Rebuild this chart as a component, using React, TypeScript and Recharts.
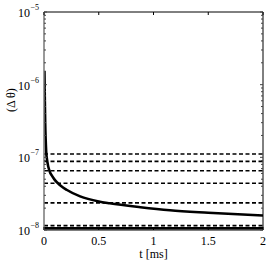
import { LineChart, Line, XAxis, YAxis, ReferenceLine } from 'recharts'

// curve (t in ms, Δθ)
const tMs = [0.004, 0.006, 0.008, 0.011, 0.015, 0.02, 0.03, 0.05, 0.075, 0.1, 0.15, 0.21, 0.33, 0.5, 0.6, 0.88, 1.15, 1.5, 2]
const dTheta = [1.55e-6, 9.0e-7, 5.6e-7, 3.0e-7, 1.8e-7, 1.2e-7, 8.8e-8, 6.5e-8, 5.5e-8, 4.85e-8, 4.1e-8, 3.55e-8, 2.9e-8, 2.47e-8, 2.33e-8, 2.06e-8, 1.87e-8, 1.73e-8, 1.58e-8]

const dashedLevels = [1.11e-7, 8.8e-8, 6.55e-8, 4.4e-8, 2.36e-8, 1.15e-8]
const solidLevels = [1.06e-8]

const xTicks = [0, 0.5, 1, 1.5, 2]
const decades = [-8, -7, -6, -5]
const yTicks: number[] = []
decades.forEach((d, i) => {
  yTicks.push(Math.pow(10, d))
  if (i < decades.length - 1) {
    for (let k = 2; k <= 9; k++) yTicks.push(k * Math.pow(10, d))
  }
})

const data = tMs.map((t, i) => ({ t, v: dTheta[i] }))

const FONT = '"Liberation Serif", "DejaVu Serif", serif'

const isMajor = (v: number) => {
  const e = Math.log10(v)
  return Math.abs(e - Math.round(e)) < 1e-6
}

const LeftTick = ({ x, y, payload }: any) => {
  const major = isMajor(payload.value)
  const exp = Math.round(Math.log10(payload.value))
  return (
    <g>
      <line x1={x} y1={y} x2={x + (major ? 3 : 2)} y2={y} stroke="#444" strokeWidth={1} />
      {major && (
        <text x={x - 5} y={y + 5} textAnchor="end" fontFamily={FONT} fontSize={12} fill="#000">
          10
          <tspan dx={0.5} dy={-7} fontSize={8}>{`\u2212${-exp}`}</tspan>
        </text>
      )}
    </g>
  )
}

const RightTick = ({ x, y, payload }: any) => {
  const major = isMajor(payload.value)
  return <line x1={x} y1={y} x2={x - (major ? 3 : 2)} y2={y} stroke="#444" strokeWidth={1} />
}

const BottomTick = ({ x, y, payload }: any) => (
  <g>
    <line x1={x} y1={y} x2={x} y2={y - 3} stroke="#000" strokeWidth={1} />
    <text x={x} y={y + 15} textAnchor="middle" fontFamily={FONT} fontSize={12} fill="#000">
      {payload.value}
    </text>
  </g>
)

const TopTick = ({ x, y }: any) => (
  <line x1={x} y1={y} x2={x} y2={y + 3} stroke="#000" strokeWidth={1} />
)

export default function App() {
  return (
    <div style={{ position: 'absolute', left: 0, top: 0, background: '#fff' }}>
      <LineChart width={270} height={261} data={data} margin={{ top: 0, right: 0, bottom: 0, left: 0 }}>
        <XAxis
          xAxisId="b"
          dataKey="t"
          type="number"
          domain={[0, 2]}
          ticks={xTicks}
          interval={0}
          height={31}
          tickSize={0}
          tickMargin={0}
          tickLine={false}
          axisLine={{ stroke: '#000', strokeWidth: 1 }}
          tick={<BottomTick />}
          allowDataOverflow
          label={{ value: 't [ms]', position: 'insideBottom', offset: 3, fontFamily: FONT, fontSize: 12, fill: '#000' }}
        />
        <XAxis
          xAxisId="t"
          orientation="top"
          dataKey="t"
          type="number"
          domain={[0, 2]}
          ticks={xTicks}
          interval={0}
          height={12}
          tickSize={0}
          tickMargin={0}
          tickLine={false}
          axisLine={{ stroke: '#000', strokeWidth: 1 }}
          tick={<TopTick />}
          allowDataOverflow
        />
        <YAxis
          yAxisId="l"
          scale="log"
          type="number"
          domain={[1e-8, 1e-5]}
          ticks={yTicks}
          interval={0}
          width={44}
          tickSize={0}
          tickMargin={0}
          tickLine={false}
          axisLine={{ stroke: '#777', strokeWidth: 1.5 }}
          tick={<LeftTick />}
          allowDataOverflow
          label={{ value: '(\u0394 \u03b8)', angle: -90, position: 'insideLeft', offset: 11, fontFamily: FONT, fontSize: 12, fill: '#000', dy: -9 }}
        />
        <YAxis
          yAxisId="r"
          orientation="right"
          scale="log"
          type="number"
          domain={[1e-8, 1e-5]}
          ticks={yTicks}
          interval={0}
          width={7}
          tickSize={0}
          tickMargin={0}
          tickLine={false}
          axisLine={{ stroke: '#000', strokeWidth: 1 }}
          tick={<RightTick />}
          allowDataOverflow
        />
        {dashedLevels.map((v, i) => (
          <ReferenceLine key={'d' + i} xAxisId="b" yAxisId="l" y={v} stroke="#000" strokeWidth={1.6} strokeDasharray="4 2.5" />
        ))}
        {solidLevels.map((v, i) => (
          <ReferenceLine key={'s' + i} xAxisId="b" yAxisId="l" y={v} stroke="#000" strokeWidth={2.5} />
        ))}
        <Line xAxisId="t" yAxisId="r" dataKey="v" stroke="none" dot={false} activeDot={false} isAnimationActive={false} />
        <Line
          xAxisId="b"
          yAxisId="l"
          dataKey="v"
          type="monotone"
          stroke="#000"
          strokeWidth={2.6}
          dot={false}
          activeDot={false}
          isAnimationActive={false}
        />
      </LineChart>
    </div>
  )
}
